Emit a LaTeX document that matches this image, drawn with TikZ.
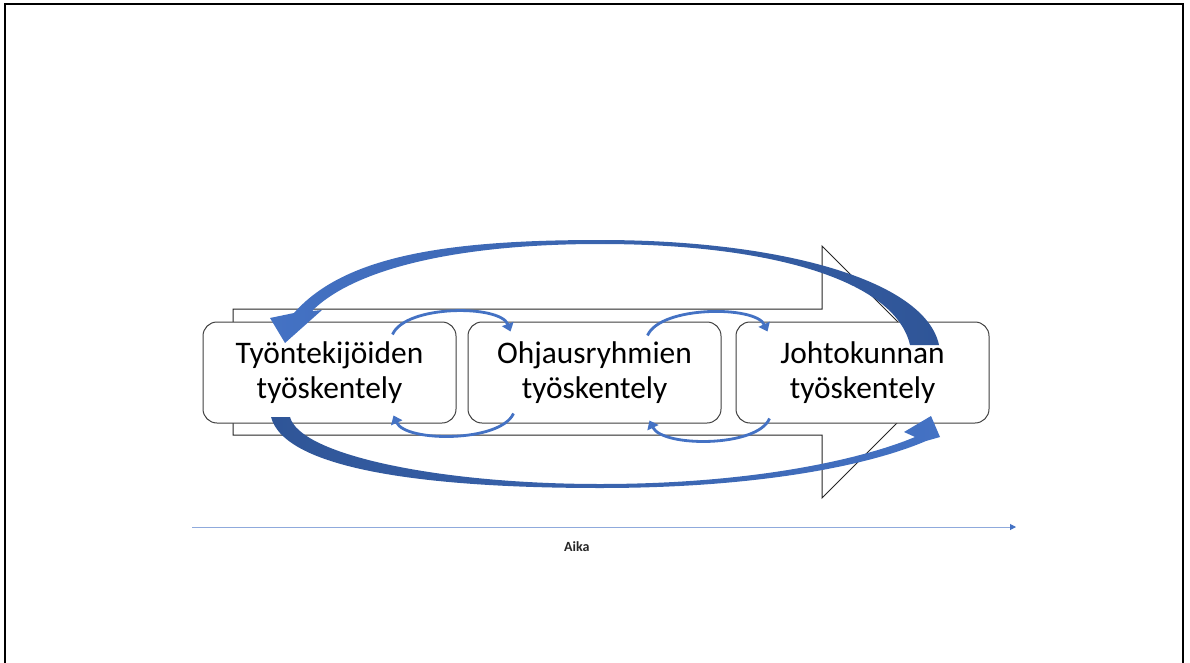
\documentclass[tikz,border=0pt]{standalone}
\usepackage{fontspec}
\setmainfont{Carlito}
\usepackage{xcolor}
\usepackage{tikz}
\usetikzlibrary{arrows.meta,positioning,calc}

\definecolor{officeblue}{HTML}{4472C4}
\definecolor{darkblue}{HTML}{2F5597}
\definecolor{lineblue}{HTML}{8FAADC}

\begin{document}
\begin{tikzpicture}[x=1pt, y=-1pt,
    workbox/.style={draw=black!75, line width=1pt, fill=white, rounded corners=14pt, minimum width=253pt, minimum height=101pt, align=center, font=\fontsize{31.4}{35}\selectfont},
    bigarrow/.style={draw=black!85, line width=1pt, fill=white},
    swirl/.style={draw=officeblue, line width=2.8pt, -{Triangle[length=8pt,width=12pt]}},
    timeline/.style={draw=lineblue, line width=1pt, -{Triangle[length=6pt,width=6pt,color=officeblue]}}]
    \useasboundingbox (0,0) rectangle (1190,663);
    % slide frame
    \draw[line width=1.6pt] (5,663) -- (5,4) -- (1183,4) -- (1183,663);

    % time arrow behind the boxes
    \draw[bigarrow] (233,309) -- (822,309) -- (822,246) -- (948,372) -- (822,498) -- (822,435) -- (233,435) -- cycle;

    \node[workbox] (tyontekijat) at (329.5,372.5) {Työntekijöiden\\työskentely};
    \node[workbox, right=11pt of tyontekijat] (ohjaus) {Ohjausryhmien\\työskentely};
    \node[workbox, right=14pt of ohjaus] (johto) {Johtokunnan\\työskentely};

    % big feedback arcs
    \shade[left color=officeblue, right color=darkblue]
        (939,345) .. controls (925,280) and (780,240) .. (600,240)
        .. controls (450,240) and (345,255) .. (294,313)
        -- (270,318) -- (285,343) -- (322,310) -- (312,311)
        .. controls (355,268) and (460,244) .. (600,244)
        .. controls (770,244) and (895,280) .. (910,345) -- cycle;
    \shade[left color=darkblue, right color=officeblue]
        (271,417) .. controls (285,470) and (430,488) .. (600,488)
        .. controls (760,488) and (870,465) .. (926,441)
        -- (940,437) -- (931,416) -- (904,432) -- (915,437)
        .. controls (860,460) and (750,484) .. (600,484)
        .. controls (440,484) and (300,455) .. (290,417) -- cycle;

    % small loops between the boxes
    \draw[swirl] ($(tyontekijat.north east)+(-64,13)$) .. controls +(13,-30) and +(-10,-27) .. ($(ohjaus.north west)+(43,10)$);
    \draw[swirl] ($(ohjaus.south west)+(46,-10)$) .. controls +(-13,29) and +(12,27) .. ($(tyontekijat.south east)+(-63,-8)$);
    \draw[swirl] ($(ohjaus.north east)+(-74,14)$) .. controls +(13,-30) and +(-12,-26) .. ($(johto.north west)+(32,10)$);
    \draw[swirl] ($(johto.south west)+(34,-5)$) .. controls +(-12,29) and +(13,27) .. ($(ohjaus.south east)+(-72,-3)$);

    \coordinate (alku) at (192,527);
    \coordinate (loppu) at (1016,527);
    \draw[timeline] (alku) -- (loppu) node[pos=0.467, below=14pt, inner sep=0pt, text=black!85, font=\bfseries\fontsize{14}{16}\selectfont] {Aika};
\end{tikzpicture}
\end{document}
